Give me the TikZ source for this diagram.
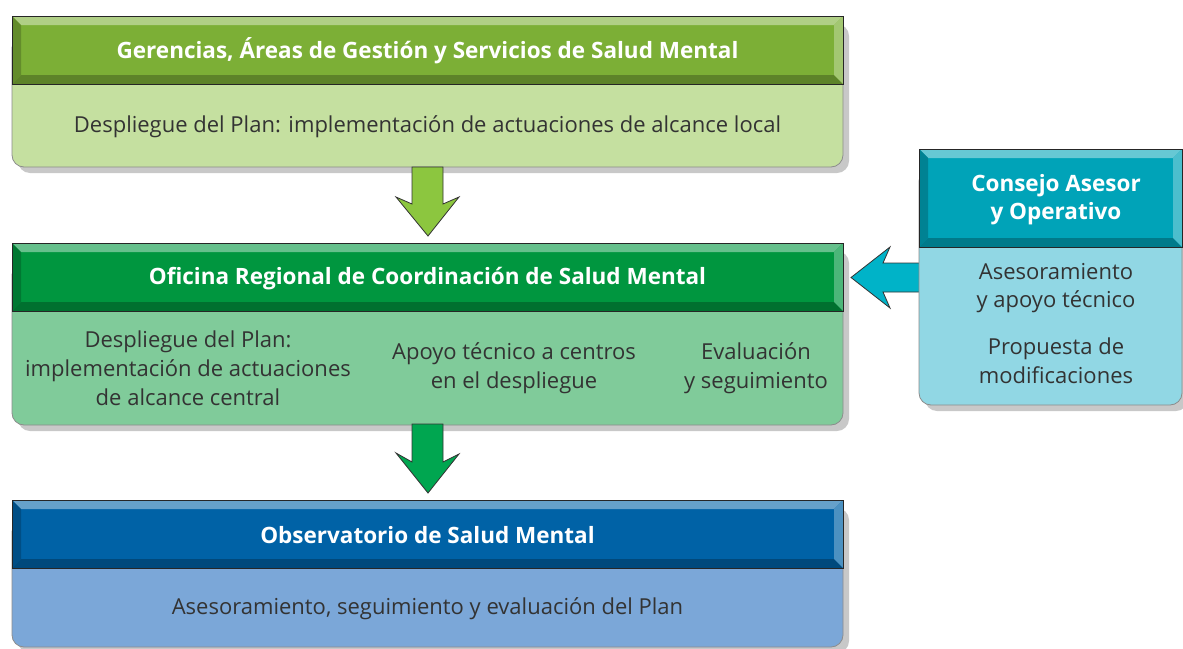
\documentclass[tikz,border=0pt]{standalone}
\usepackage{fontspec}
\setmainfont{Open Sans}
\definecolor{gA}{HTML}{7CAF36}\definecolor{gAb}{HTML}{C5E0A0}\definecolor{gAr}{HTML}{8CC63F}
\definecolor{gB}{HTML}{00963F}\definecolor{gBb}{HTML}{80CB9A}\definecolor{gBr}{HTML}{00A650}
\definecolor{bC}{HTML}{0062A6}\definecolor{bCb}{HTML}{7BA7D8}
\definecolor{cD}{HTML}{00A3B8}\definecolor{cDb}{HTML}{91D7E4}\definecolor{cDr}{HTML}{00B3C8}
\definecolor{txt}{HTML}{333333}\definecolor{shd}{HTML}{C8C8C8}
\newcommand{\planbox}[6]{% x1,y1,x2,yh,ybot,colour
  \fill[shd,rounded corners=12] ({#1+6},{#2+8}) rectangle ({#3+6},{#5+6});
  \fill[#6b,draw=black!45,line width=0.8,rounded corners=12] (#1,{#2+20}) rectangle (#3,#5);
  \fill[#6] (#1,#2) rectangle (#3,#4);
  \fill[#6!60!white] (#1,#2) -- (#3,#2) -- ({#3-9},{#2+9}) -- ({#1+9},{#2+9}) -- cycle;
  \fill[#6!80!black] (#1,#2) -- ({#1+9},{#2+9}) -- ({#1+9},{#4-9}) -- (#1,#4) -- cycle;
  \fill[#6!75!black] (#1,#4) -- ({#1+9},{#4-9}) -- ({#3-9},{#4-9}) -- (#3,#4) -- cycle;
  \fill[#6!70!white] (#3,#2) -- ({#3-9},{#2+9}) -- ({#3-9},{#4-9}) -- (#3,#4) -- cycle;
  \draw[black!85,line width=1] (#1,#2) rectangle (#3,#4);
}
\begin{document}
\begin{tikzpicture}[x=1pt,y=-1pt,
  head/.style={text=white,font=\fontsize{22.5}{28}\selectfont\bfseries,align=center,inner sep=0},
  body/.style={text=txt,font=\fontsize{22}{28.8}\selectfont,align=center,inner sep=0},
  blockarrow/.style={draw=black!80,line width=0.8,line join=miter}]
\useasboundingbox (0,0) rectangle (1183,648);
% boxes
\planbox{12}{16}{843}{84}{167}{gA}
\planbox{12}{243}{843}{311}{425}{gB}
\planbox{12}{500}{843}{568}{647}{bC}
% cyan arrow (behind consejo box)
\fill[blockarrow,fill=cDr] (925,263) -- (883,263) -- (890,247) -- (851,277.5) -- (890,308) -- (883,292) -- (925,292) -- cycle;
\planbox{919}{149}{1182}{247}{405}{cD}
% texts
\node[head] (h1) at (427.5,50.5) {Gerencias, Áreas de Gestión y Servicios de Salud Mental};
\node[body] (b1) at (427.5,127) {Despliegue del Plan: implementación de actuaciones de alcance local};
\node[head] (h2) at (427.5,278.5) {Oficina Regional de Coordinación de Salud Mental};
\node[body] (b2a) at (188,368) {Despliegue del Plan:\\implementación de actuaciones\\de alcance central};
\node[body] (b2b) at (514,368) {Apoyo técnico a centros\\en el despliegue};
\node[body] (b2c) at (756,368) {Evaluación\\y seguimiento};
\node[head] (h3) at (427.5,535.5) {Observatorio de Salud Mental};
\node[body] (b3) at (427.5,609) {Asesoramiento, seguimiento y evaluación del Plan};
\node[head] (h4) at (1056,199.5) {Consejo Asesor\\y Operativo};
\node[body] (b4a) at (1056,288) {Asesoramiento\\y apoyo técnico};
\node[body] (b4b) at (1056,361) {Propuesta de\\modificaciones};
% down arrows
\fill[blockarrow,fill=gAr] (412,167) -- (443,167) -- (443,204) -- (459,197) -- (428,236) -- (396,197) -- (412,204) -- cycle;
\fill[blockarrow,fill=gBr] (412,424) -- (443,424) -- (443,462) -- (459,454) -- (428,493) -- (396,453) -- (412,462) -- cycle;
\end{tikzpicture}
\end{document}
